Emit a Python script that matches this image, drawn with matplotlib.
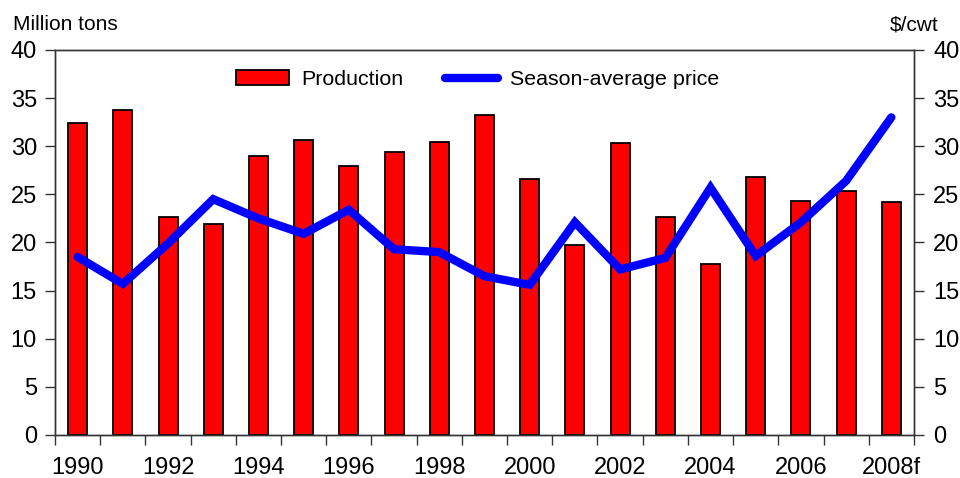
import numpy as np
import matplotlib
matplotlib.use("Agg")
import matplotlib.pyplot as plt
from matplotlib.patches import Patch
from matplotlib.lines import Line2D

plt.rcParams['font.family'] = ['Liberation Sans', 'DejaVu Sans']

# data
years = ['1990', '1991', '1992', '1993', '1994', '1995', '1996', '1997', '1998', '1999',
         '2000', '2001', '2002', '2003', '2004', '2005', '2006', '2007', '2008f']
production = [32.4, 33.8, 22.6, 21.9, 29.0, 30.7, 27.9, 29.4, 30.4, 33.2,
              26.6, 19.7, 30.3, 22.6, 17.8, 26.8, 24.3, 25.4, 24.2]
price = [18.5, 15.7, 19.9, 24.5, 22.5, 20.9, 23.4, 19.3, 19.0, 16.5,
         15.6, 22.1, 17.2, 18.4, 25.7, 18.6, 22.1, 26.4, 33.0]

fig = plt.figure(figsize=(9.6, 4.78), dpi=100)
ax = fig.add_axes([0.0573, 0.09, 0.8947, 0.8054])
ax2 = ax.twinx()

x = np.arange(len(years))
ax.bar(x, production, width=0.42, color='#ff0000', edgecolor='black', linewidth=1.3, zorder=2)
ax2.plot(x, price, color='#0000ff', linewidth=6, solid_joinstyle='miter', solid_capstyle='round', zorder=3)

for a in (ax, ax2):
    a.set_ylim(0, 40)
    a.set_yticks(np.arange(0, 41, 5))
    a.set_xlim(-0.5, len(years) - 0.5)
    for s in a.spines.values():
        s.set_color('#333333')
        s.set_linewidth(1.0)

ax.tick_params(axis='y', direction='out', length=7, width=1, color='#333333', pad=6, labelsize=17)
ax2.tick_params(axis='y', direction='out', length=7, width=1, color='#333333', pad=7, labelsize=17)

# year ticks at category boundaries, labels on every other year
ax.set_xticks(np.arange(-0.5, len(years), 1.0))
ax.set_xticklabels([])
ax.tick_params(axis='x', which='major', direction='out', length=7, width=1, color='#333333')
ax.set_xticks(x[::2], minor=True)
ax.set_xticklabels(years[::2], minor=True)
ax.tick_params(axis='x', which='minor', length=0, pad=16, labelsize=17)

fig.text(0.014, 0.928, 'Million tons', fontsize=15, ha='left', va='bottom')
fig.text(0.978, 0.928, '$/cwt', fontsize=15, ha='right', va='bottom')

handles = [Patch(facecolor='#ff0000', edgecolor='black', linewidth=1.3),
           Line2D([0], [0], color='#0000ff', linewidth=6, solid_capstyle='round')]
ax2.legend(handles, ['Production', 'Season-average price'], loc='upper center',
           bbox_to_anchor=(0.492, 0.997), ncol=2, frameon=False, fontsize=15.4,
           handlelength=2.5, handletextpad=0.56, columnspacing=1.95)

fig.savefig('out.png', dpi=100)
